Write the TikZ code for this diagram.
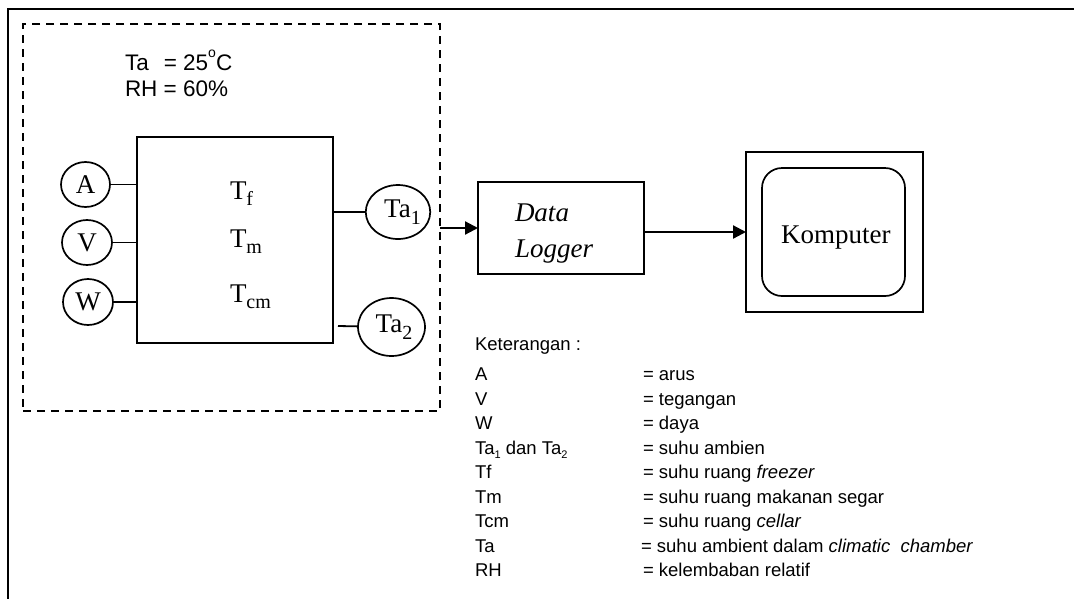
\documentclass[tikz,border=0pt]{standalone}
\usepackage{fontspec}
\setmainfont{Liberation Serif}
\newfontfamily\arialf{Liberation Sans}
\usetikzlibrary{arrows.meta,shapes.geometric}
\newcommand\lowsub[2]{\raisebox{-0.25em}{\fontsize{#1}{#1}\selectfont #2}}
\begin{document}
\begin{tikzpicture}[x=1pt,y=-1pt,
  every node/.style={inner sep=0pt, outer sep=0pt},
  boxf/.style={draw, line width=1.8pt},
  meter/.style={draw, ellipse, line width=1.7pt, font=\fontsize{27}{30}\selectfont},
  wire/.style={line width=1.8pt},
  arr/.style={line width=2.2pt, -{Triangle[length=13pt,width=13pt]}},
  leg/.style={anchor=base west, font=\arialf\fontsize{18.5}{22}\selectfont},
  cond/.style={anchor=base west, font=\arialf\fontsize{22.5}{26}\selectfont},
  tt/.style={anchor=base west, font=\fontsize{27}{30}\selectfont}]
\useasboundingbox (0,0) rectangle (1074,598);
% outer frame
\draw[line width=2.2pt] (8,640) -- (8,9) -- (1100,9);
% climatic chamber (dashed)
\node[draw, dashed, dash pattern=on 8pt off 6pt, line width=1.5pt,
      minimum width=417pt, minimum height=387pt] (chamber) at (231.5,217.5) {};
\node[cond] (ta) at (125,70) {\makebox[38.8pt][l]{Ta}= 25\raisebox{0.55em}{\fontsize{14}{14}\selectfont o}C};
\node[cond] (rh) at (125,96) {RH = 60\%};
% refrigerator box
\node[boxf, minimum width=196pt, minimum height=206pt] (box) at (235,240) {};
\node[tt] (tf) at (230,199) {T\lowsub{20}{f}};
\node[tt] (tm) at (230,247) {T\lowsub{20}{m}};
\node[tt] (tcm) at (230,302) {T\lowsub{20}{cm}};
% meters
\node[meter, minimum width=49pt, minimum height=45pt] (A) at (85.5,184.5) {A};
\node[meter, minimum width=50pt, minimum height=45pt] (V) at (87,242.5) {V};
\node[meter, minimum width=50pt, minimum height=46pt] (W) at (88,302) {W};
\draw[wire] (A) -- (A -| box.west);
\draw[wire] (V) -- (V -| box.west);
\draw[wire] (W) -- (W -| box.west);
\node[meter, minimum width=63pt, minimum height=54pt] (Ta1) at (398,212) {\kern9pt Ta\lowsub{20}{1}};
\node[meter, minimum width=67pt, minimum height=58pt] (Ta2) at (391.5,327) {\kern5pt Ta\lowsub{20}{2}};
\draw[wire] (box.east |- Ta1) -- (Ta1);
\coordinate (t2s) at (338,326);
\draw[wire] (t2s) -- (Ta2);
% data logger
\node[boxf, minimum width=166pt, minimum height=92pt] (dl) at (561,228) {};
\node[anchor=base west, font=\itshape\fontsize{27}{30}\selectfont] (dl1) at (515,221) {Data};
\node[anchor=base west, font=\itshape\fontsize{27}{30}\selectfont] (dl2) at (515,257) {Logger};
\coordinate (out) at (chamber.east |- dl.west);
\draw[arr] (out) -- (dl.west);
% computer
\node[boxf, minimum width=177pt, minimum height=160pt] (pc) at (834.5,232) {};
\node[draw, line width=1.7pt, rounded corners=20pt, minimum width=143pt, minimum height=128pt] (screen) at (833.5,232) {};
\node[tt] (komp) at (781,243) {Komputer};
\draw[arr] (dl.east |- pc.west) -- (pc.west);
% legend
\node[leg] (k0) at (475,350) {Keterangan :};
\node[leg] (k1) at (475,380) {A};
\node[leg] (k2) at (475,405) {V};
\node[leg] (k3) at (475,429) {W};
\node[leg] (k4) at (475,454) {Ta\lowsub{11}{1} dan Ta\lowsub{11}{2}};
\node[leg] (k5) at (475,478) {Tf};
\node[leg] (k6) at (475,503) {Tm};
\node[leg] (k7) at (475,527) {Tcm};
\node[leg] (k8) at (475,552) {Ta};
\node[leg] (k9) at (475,576) {RH};
\node[leg] (d1) at (643,380) {= arus};
\node[leg] (d2) at (643,405) {= tegangan};
\node[leg] (d3) at (643,429) {= daya};
\node[leg] (d4) at (643,454) {= suhu ambien};
\node[leg] (d5) at (643,478) {= suhu ruang \textit{freezer}};
\node[leg] (d6) at (643,503) {= suhu ruang makanan segar};
\node[leg] (d7) at (643,527) {= suhu ruang \textit{cellar}};
\node[leg] (d8) at (641,552) {= suhu ambient dalam \textit{climatic\ \ chamber}};
\node[leg] (d9) at (643,576) {= kelembaban relatif};
\end{tikzpicture}
\end{document}
